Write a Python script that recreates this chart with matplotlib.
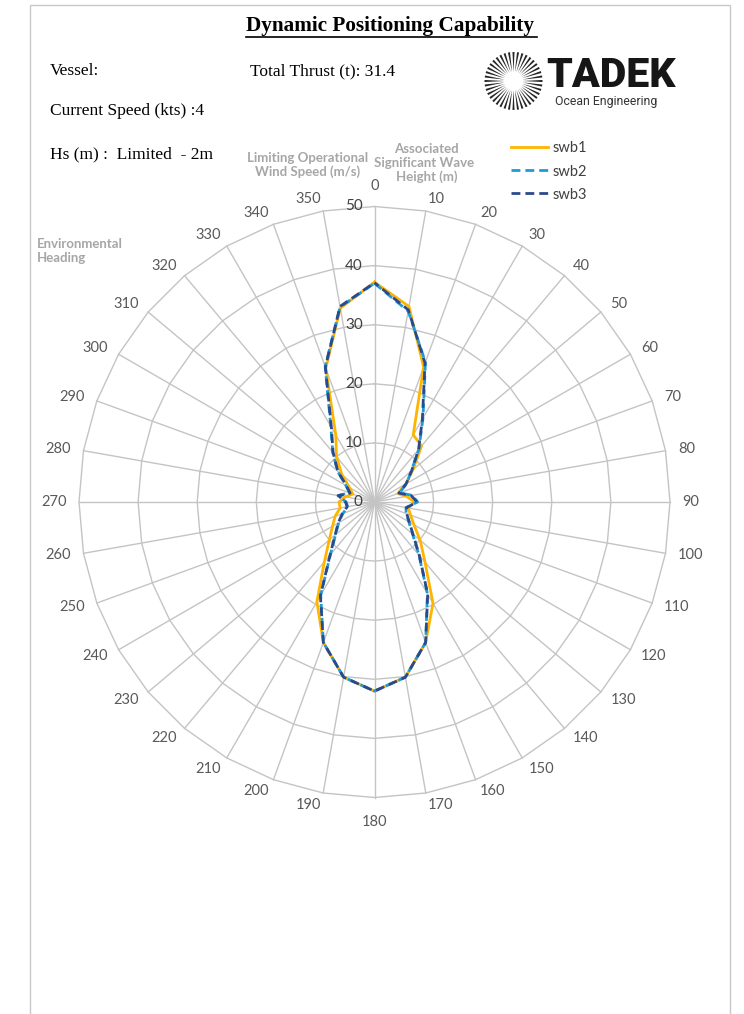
import numpy as np
import matplotlib
matplotlib.use("Agg")
import matplotlib.pyplot as plt
from matplotlib.lines import Line2D
from matplotlib.patches import Rectangle

# ---------------- data ----------------
headings = list(range(0, 360, 10))
heading_labels = [str(h) for h in headings]
radial_ticks = [0, 10, 20, 30, 40, 50]

swb1 = [37.2, 33.6, 24.3, 13.1, 12.4, 8.5, 6.1, 4.2, 5.5, 6.8, 5.8, 6.5,
        7.7, 10.1, 13.3, 19.8, 25.3, 30.1, 32.0, 30.1, 25.3, 19.5, 13.2, 10.0,
        8.2, 7.1, 5.9, 6.0, 5.0, 3.9, 4.9, 7.2, 10.0, 13.1, 24.1, 33.3]
swb2 = [37.0, 32.8, 25.2, 16.4, 11.7, 8.1, 6.3, 4.5, 6.5, 7.3, 5.4, 5.7,
        6.7, 8.4, 11.7, 17.9, 25.3, 30.1, 32.0, 30.1, 25.3, 18.2, 11.6, 8.6,
        7.0, 5.7, 4.6, 4.8, 6.3, 4.5, 5.6, 8.2, 11.0, 14.8, 24.4, 33.5]
swb3 = [37.1, 33.0, 25.0, 16.2, 11.6, 8.2, 6.2, 4.4, 6.3, 7.2, 5.5, 5.8,
        6.8, 8.5, 11.8, 18.0, 25.3, 30.1, 32.0, 30.1, 25.3, 18.3, 11.7, 8.7,
        7.1, 5.8, 4.7, 4.9, 6.2, 4.4, 5.5, 8.1, 10.9, 14.6, 24.3, 33.6]
series_names = ["swb1", "swb2", "swb3"]

# ---------------- figure ----------------
W, H = 744, 1014
fig = plt.figure(figsize=(W / 100, H / 100), dpi=100)
fig.patch.set_facecolor("white")

def fx(px):
    return px / W

def fy(py):
    return 1 - py / H

# page frame
fig.patches.append(Rectangle((fx(30), fy(1020)), fx(730) - fx(30), fy(5) - fy(1020),
                             transform=fig.transFigure, fill=False,
                             edgecolor="#c8c8c8", lw=1.0))

serif = "Liberation Serif"
title = fig.text(fx(390), fy(25.5), "Dynamic Positioning Capability", ha="center",
                 va="center", fontsize=15.3, fontweight="bold", family=serif,
                 color="black")
fig.text(fx(50), fy(71), "Vessel:", ha="left", va="center", fontsize=12.5, family=serif)
fig.text(fx(250), fy(71), "Total Thrust (t): 31.4", ha="left", va="center",
         fontsize=12.5, family=serif)
fig.text(fx(50), fy(111), "Current Speed (kts) :4", ha="left", va="center",
         fontsize=12.5, family=serif)
fig.text(fx(50), fy(154), "Hs (m) :  Limited  - 2m", ha="left", va="center",
         fontsize=12.5, family=serif)

# logo (sunburst + text)
lcx, lcy = 513.5, 81
lax = fig.add_axes([fx(lcx - 35), fy(lcy + 33), 70 / W, 66 / H])
lax.set_xlim(-35, 35)
lax.set_ylim(-33, 33)
lax.set_aspect("equal")
lax.axis("off")
n_rays = 40
hw = 0.036
for a in np.linspace(0, 2 * np.pi, n_rays, endpoint=False):
    xs = [9 * np.cos(a), 29 * np.cos(a - hw), 29 * np.cos(a + hw)]
    ys = [9 * np.sin(a), 29 * np.sin(a - hw), 29 * np.sin(a + hw)]
    lax.fill(xs, ys, color="#262626", lw=0)
fig.text(fx(546), fy(76), "TADEK", ha="left", va="center", fontsize=29.5,
         fontweight="heavy", family="Roboto", color="#161616")
fig.text(fx(555), fy(102), "Ocean Engineering", ha="left", va="center",
         fontsize=8.8, family="Roboto", color="#333333")

# axis title texts (one text per line)
gray = "#a6a6a6"
tkw = dict(ha="center", va="center", fontsize=9.5, fontweight="bold",
           family="Lato", color=gray)
fig.text(fx(308), fy(158), "Limiting Operational", **tkw)
fig.text(fx(308), fy(172), "Wind Speed (m/s)", **tkw)
fig.text(fx(426), fy(149), "Associated", **tkw)
fig.text(fx(424), fy(163), "Significant Wave", **tkw)
fig.text(fx(427), fy(177), "Height (m)", **tkw)
fig.text(fx(37), fy(251), "Environmental\nHeading", ha="left", va="center",
         fontsize=9.5, fontweight="bold", family="Lato", color=gray,
         linespacing=1.1)

# ---------------- polar radar ----------------
cx, cy, R = 374.5, 502, 295.5
ax = fig.add_axes([fx(cx - R), fy(cy + R), 2 * R / W, 2 * R / H], projection="polar")
ax.set_theta_zero_location("N")
ax.set_theta_direction(-1)
ax.set_ylim(0, 50)
ax.spines["polar"].set_visible(False)
ax.set_facecolor("none")
ax.set_xticks([])
ax.set_yticks([])
ax.grid(False)

theta = np.deg2rad(headings)
theta_c = np.append(theta, theta[0])
grid_col = "#c4c4c4"
for r in radial_ticks[1:]:
    ax.plot(theta_c, [r] * len(theta_c), color=grid_col, lw=1.0, zorder=1, clip_on=False)
for t in theta:
    ax.plot([t, t], [0, 50], color=grid_col, lw=1.0, zorder=1, clip_on=False)

# heading labels (Excel-like placement just outside the outer ring)
heading_texts = []
for h, lab in zip(headings, heading_labels):
    a = ax.annotate(lab, xy=(np.deg2rad(h), 50), xytext=(0, 0),
                    textcoords="offset points", ha="center", va="center",
                    fontsize=10.5, family="Lato", color="#595959",
                    annotation_clip=False)
    heading_texts.append((h, a))

for r in radial_ticks:
    ax.annotate(str(r), xy=(0, r), xytext=(-8.5, 0), textcoords="offset points",
                ha="right", va="center", fontsize=11, family="Lato",
                color="#404040", zorder=5)

colors = ["#FFB400", "#1E9AD6", "#2B4A8C"]
styles = ["-", (0, (3.2, 1.8)), (1.4, (3.2, 1.8))]
legend_styles = ["-", (0, (3.2, 1.8)), (0, (3.2, 1.8))]
vals = [swb1, swb2, swb3]
handles = []
for i, (name, v) in enumerate(zip(series_names, vals)):
    vc = np.append(v, v[0])
    ax.plot(theta_c, vc, color=colors[i], lw=2.0, label=name, zorder=3 + i,
            linestyle=styles[i], dash_capstyle="butt")
    handles.append(Line2D([], [], color=colors[i], lw=2.0, linestyle=legend_styles[i],
                          dash_capstyle="butt"))

leg = fig.legend(handles=handles, labels=series_names, loc="upper left",
                 bbox_to_anchor=(fx(511), fy(141.5)), frameon=False,
                 handlelength=2.55, handletextpad=0.33, labelspacing=0.62,
                 borderpad=0, borderaxespad=0, prop={"family": "Lato", "size": 10.5})
for t in leg.get_texts():
    t.set_color("#404040")

# measure and place heading labels / underline
fig.canvas.draw()
rend = fig.canvas.get_renderer()
px2pt = 72 / fig.dpi
a_gap = 12.5
for h, a in heading_texts:
    bbx = a.get_window_extent(renderer=rend)
    w2, h2 = bbx.width / 2, bbx.height / 2 * 0.75
    s, c = np.sin(np.deg2rad(h)), np.cos(np.deg2rad(h))
    if abs(s) < 1e-6:
        extra = 3 if c > 0 else 7
        dx, dy = 0.0, np.sign(c) * (a_gap + h2 + extra)
    else:
        dx, dy = a_gap * s + np.sign(s) * w2, a_gap * c
    a.xyann = (dx * px2pt, dy * px2pt)

bb = title.get_window_extent(renderer=rend)
fig.lines.append(Line2D([bb.x0 / W, (bb.x1 + 3) / W], [(bb.y0 - 1) / H] * 2,
                        transform=fig.transFigure, color="black", lw=1.2))

fig.savefig("out.png", dpi=100)
